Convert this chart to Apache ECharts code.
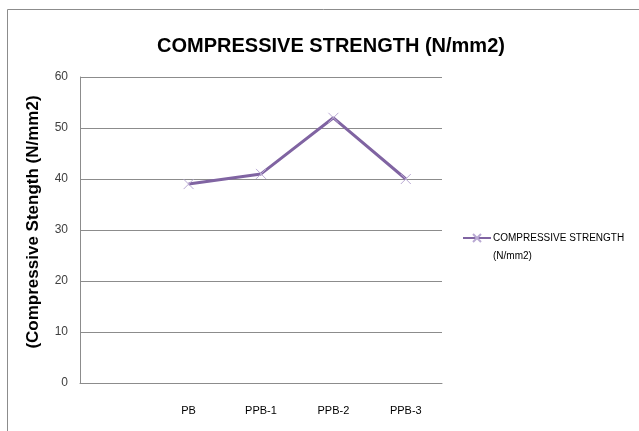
<!DOCTYPE html>
<html>
<head>
<meta charset="utf-8">
<script src="https://cdn.jsdelivr.net/npm/echarts@6/dist/echarts.min.js"></script>
<style>
  html, body { margin: 0; padding: 0; background: #fff; }
  #chart { width: 639px; height: 431px; }
</style>
</head>
<body>
<div id="chart"></div>
<script>
// data
const categories = ['', 'PB', 'PPB-1', 'PPB-2', 'PPB-3'];
const strength = [null, 39, 41, 52, 40];
const seriesName = 'COMPRESSIVE STRENGTH\n(N/mm2)';

const chart = echarts.init(document.getElementById('chart'), null, { renderer: 'canvas' });

const crossPath = 'path://M0,0L10,10M10,0L0,10';
const fontFam = 'Liberation Sans, Arial, sans-serif';

const option = {
  animation: false,
  textStyle: { fontFamily: fontFam },
  title: {
    text: 'COMPRESSIVE STRENGTH (N/mm2)',
    left: 326,
    textAlign: 'center',
    top: 31,
    textStyle: {
      fontFamily: fontFam,
      fontWeight: 'bold',
      fontSize: 20,
      color: '#000'
    }
  },
  graphic: [{
    type: 'rect',
    shape: { x: 7.5, y: 9.5, width: 700, height: 500 },
    style: { fill: 'none', stroke: '#8c8c8c', lineWidth: 1 }
  }],
  legend: {
    orient: 'vertical',
    left: 457,
    top: 206,
    itemWidth: 28,
    itemHeight: 10,
    itemGap: 0,
    data: [seriesName],
    // leading blank line keeps the first text line level with the icon
    formatter: name => '\n' + name,
    textStyle: {
      fontFamily: fontFam,
      fontSize: 10,
      color: '#000',
      lineHeight: 18,
      padding: [0, 0, 0, -3]
    }
  },
  grid: { left: 80, right: 197, top: 77, bottom: 48 },
  xAxis: {
    type: 'category',
    data: categories,
    boundaryGap: true,
    axisLine: { lineStyle: { color: '#8c8c8c', width: 1 } },
    axisTick: { show: false },
    axisLabel: {
      interval: 0,
      margin: 22,
      fontFamily: fontFam,
      fontSize: 11,
      color: '#000'
    }
  },
  yAxis: {
    type: 'value',
    min: 0,
    max: 60,
    interval: 10,
    name: '(Compressive Stength (N/mm2)',
    nameLocation: 'middle',
    nameGap: 38,
    nameTextStyle: {
      fontFamily: fontFam,
      fontWeight: 'bold',
      fontSize: 17,
      color: '#000',
      padding: [0, 0, 0, 16]
    },
    axisLine: { show: true, lineStyle: { color: '#8c8c8c', width: 1 } },
    axisTick: { show: false },
    splitLine: { lineStyle: { color: '#8c8c8c', width: 1 } },
    axisLabel: {
      margin: 12,
      fontFamily: fontFam,
      fontSize: 12,
      color: '#404040'
    }
  },
  series: [{
    name: seriesName,
    type: 'line',
    data: strength,
    connectNulls: false,
    symbol: crossPath,
    symbolSize: 10,
    lineStyle: { color: '#8064a2', width: 3 },
    itemStyle: { color: 'none', borderColor: '#b9a9d3', borderWidth: 1 }
  }]
};

chart.setOption(option);
</script>
</body>
</html>
